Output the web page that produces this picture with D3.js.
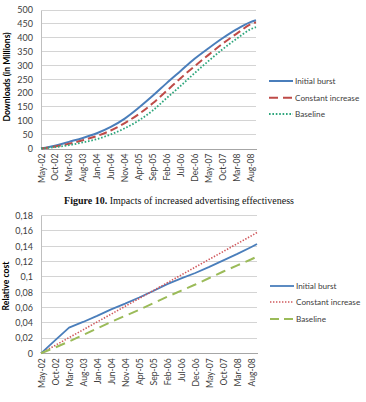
<!DOCTYPE html>
<html><head><meta charset="utf-8">
<script src="https://cdn.jsdelivr.net/npm/d3@7"></script>
<style>
html,body{margin:0;padding:0;background:#fff;}
svg{display:block;}
</style></head>
<body>
<svg id="c" width="366" height="402"></svg>
<script>
// ---- data ----
const tickLabels = ["May-02","Oct-02","Mar-03","Aug-03","Jan-04","Jun-04","Nov-04","Apr-05","Sep-05","Feb-06","Jul-06","Dec-06","May-07","Oct-07","Mar-08","Aug-08"];
const tickMonths = [0,5,10,15,20,25,30,35,40,45,50,55,60,65,70,75];
const months = [0,5,10,15,20,25,30,35,40,45,50,55,60,65,70,75,77];
const seriesNames = ["Initial burst","Constant increase","Baseline"];

const dlInitialBurst     = [0,10,24,38,55,78,108,147,190,236,280,324,362,398,430,456,463];
const dlConstantIncrease = [0,7,17,30,45,65,92,124,163,208,254,297,338,378,414,448,456];
const dlBaseline         = [0,5,12,22,34,51,73,101,137,182,226,272,316,358,396,430,438];
const dlTicks = [0,50,100,150,200,250,300,350,400,450,500];

const costInitialBurst     = [0,0.017,0.0335,0.041,0.049,0.0575,0.065,0.073,0.0815,0.0905,0.098,0.105,0.113,0.1215,0.130,0.139,0.143];
const costConstantIncrease = [0,0.0102,0.0205,0.0307,0.041,0.0512,0.0615,0.0717,0.082,0.0922,0.1025,0.1127,0.123,0.1332,0.1435,0.1537,0.158];
const costBaseline         = [0,0.0075,0.0155,0.024,0.0325,0.041,0.049,0.057,0.0655,0.074,0.082,0.090,0.0985,0.107,0.115,0.123,0.1265];
const costTicks = [0,0.02,0.04,0.06,0.08,0.1,0.12,0.14,0.16,0.18];

const svg = d3.select("#c");
const FONT = "Lato, 'Open Sans', sans-serif";
const TXT = "#404040";

function chart(opt){
  const g = svg.append("g");
  const x = d3.scaleLinear().domain([0,77]).range([opt.left, opt.right]);
  const y = d3.scaleLinear().domain([0, opt.ymax]).range([opt.bottom, opt.top]);

  // gridlines
  g.append("g").selectAll("line").data(opt.ticks.slice(1)).join("line")
    .attr("x1", opt.left).attr("x2", opt.right)
    .attr("y1", d=>y(d)).attr("y2", d=>y(d))
    .attr("stroke","#d4d4d4").attr("stroke-width",1).attr("shape-rendering","crispEdges");

  // y axis
  const ya = d3.axisLeft(y).tickValues(opt.ticks).tickSize(0).tickPadding(8)
    .tickFormat(opt.fmt);
  const yg = g.append("g").attr("transform",`translate(${opt.left},0)`).call(ya);
  yg.select(".domain").attr("stroke","#bfbfbf").attr("shape-rendering","crispEdges");
  yg.selectAll("text").attr("font-family",FONT).attr("font-size","9px").attr("fill",TXT);

  // x axis
  const xa = d3.axisBottom(x).tickValues(tickMonths).tickSize(0).tickPadding(0)
    .tickFormat((d,i)=>tickLabels[i]);
  const xg = g.append("g").attr("transform",`translate(0,${opt.bottom})`).call(xa);
  xg.select(".domain").attr("stroke","#a6a6a6").attr("shape-rendering","crispEdges");
  xg.selectAll("text")
    .attr("font-family",FONT).attr("font-size","8.6px").attr("fill",TXT)
    .attr("text-anchor","end")
    .attr("transform","rotate(-90)")
    .attr("x",-5).attr("y",0).attr("dy","0.35em");

  // y title
  g.append("text")
    .attr("transform",`translate(${opt.titleX},${opt.titleY}) rotate(-90)`)
    .attr("text-anchor","middle").attr("dy","0.35em")
    .attr("font-family",FONT).attr("font-size","8.6px").attr("font-weight","bold")
    .attr("fill","#000").text(opt.title);

  // lines
  const line = d3.line().x((d,i)=>x(months[i])).y(d=>y(d)).curve(opt.curve);
  opt.series.forEach(s=>{
    g.append("path").datum(s.values)
      .attr("d", line).attr("fill","none")
      .attr("stroke", s.color).attr("stroke-width", s.width)
      .attr("stroke-dasharray", s.dash)
      .attr("stroke-linejoin","round");
  });

  // legend
  opt.series.forEach((s,i)=>{
    const ly = opt.legY[i];
    g.append("line").attr("x1",opt.legX).attr("x2",opt.legX+24)
      .attr("y1",ly).attr("y2",ly)
      .attr("stroke",s.color).attr("stroke-width",s.width).attr("stroke-dasharray",s.legDash||s.dash);
    g.append("text").attr("x",opt.legX+26).attr("y",ly).attr("dy","0.35em")
      .attr("font-family",FONT).attr("font-size","8.2px").attr("fill",TXT)
      .text(seriesNames[i]);
  });
}

chart({
  left:41, right:256, top:10, bottom:148.5, ymax:500, ticks:dlTicks,
  fmt:d=>d, title:"Downloads (in Millions)", titleX:7, titleY:77,
  curve:d3.curveMonotoneX,
  legX:269, legY:[81,97.7,114],
  series:[
    {values:dlInitialBurst, color:"#4a7ebb", width:2, dash:null},
    {values:dlConstantIncrease, color:"#be4b48", width:2, dash:"8,4", legDash:"9,5"},
    {values:dlBaseline, color:"#2ea67c", width:1.8, dash:"1.6,1.8"}
  ]
});

chart({
  left:41, right:257, top:215.7, bottom:353.3, ymax:0.18, ticks:costTicks,
  fmt:d=> d===0 ? "0" : String(d).replace(".",","), title:"Relative cost", titleX:6, titleY:286,
  curve:d3.curveLinear,
  legX:270, legY:[286,302,319],
  series:[
    {values:costInitialBurst, color:"#4a7ebb", width:1.8, dash:null},
    {values:costConstantIncrease, color:"#d0585c", width:1.6, dash:"1.4,1.6"},
    {values:costBaseline, color:"#9bbb59", width:2, dash:"10,6", legDash:"9,5"}
  ]
});

// caption
const cap = svg.append("text").attr("x",179).attr("y",200).attr("dy","0.35em")
  .attr("text-anchor","middle").attr("font-family","'Liberation Serif', 'Times New Roman', serif")
  .attr("font-size","10px").attr("fill","#111");
cap.append("tspan").attr("font-weight","bold").text("Figure 10.");
cap.append("tspan").text(" Impacts of increased advertising effectiveness");
</script>
</body></html>
